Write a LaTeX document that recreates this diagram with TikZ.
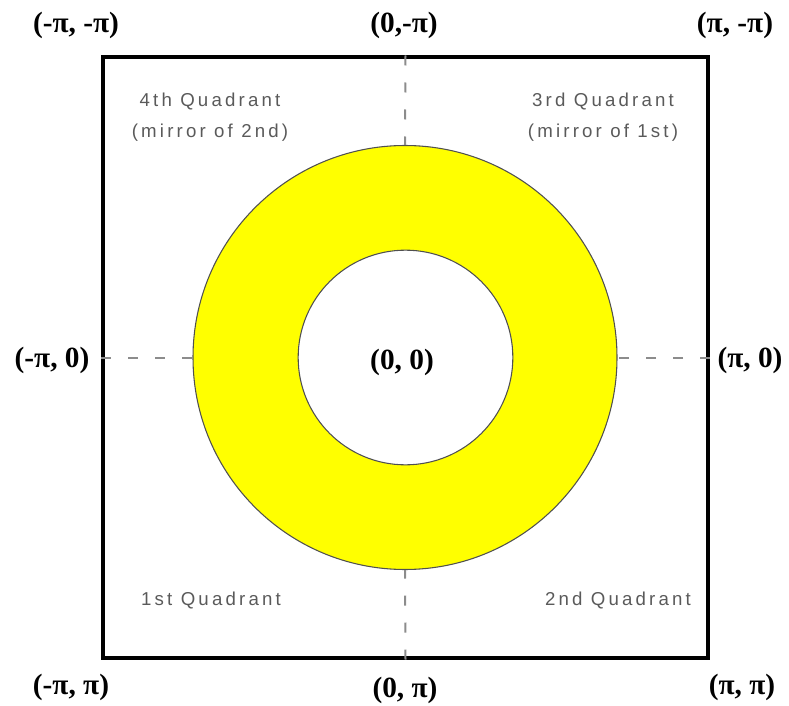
\documentclass[tikz,border=0pt]{standalone}
\usepackage{fontspec}
\setmainfont{Liberation Serif}
\setsansfont{Liberation Sans}
\usepackage{tikz}
\usetikzlibrary{positioning}
\definecolor{RingYellow}{HTML}{FFFF00}
\definecolor{EdgeGray}{HTML}{505050}
\definecolor{AxisGray}{HTML}{8C8C8C}
\definecolor{NoteGray}{HTML}{5A5A5A}

\begin{document}
\begin{tikzpicture}[
  x=0.75pt, y=-0.75pt,
  frame/.style={rectangle, draw=black, line width=3pt, minimum width=453.75pt, minimum height=450pt, inner sep=0pt},
  ring/.style={circle, draw=EdgeGray, line width=0.8pt, fill=RingYellow, minimum size=318pt, inner sep=0pt},
  hole/.style={circle, draw=EdgeGray, line width=0.8pt, fill=white, minimum size=161pt, inner sep=0pt},
  corner/.style={font=\bfseries\fontsize{22}{26}\selectfont, inner sep=0pt},
  quad/.style={font=\sffamily\fontsize{14}{23.5}\selectfont\addfontfeature{LetterSpace=17}, text=NoteGray, align=center, inner sep=0pt},
  axis/.style={dash pattern=on 7.5pt off 12.75pt, line width=1.5pt, draw=AxisGray}
]
\useasboundingbox (0,0) rectangle (789,706);

\node[frame] (sq) at (405.5,357.5) {};
\node[ring] (ring) at (405,357.5) {};
\node[hole] (hole) at (405.5,357.5) {};

% dashed axes from the frame to the ring
\draw[axis] (sq.north) -- (ring.north);
\draw[axis] (sq.south) -- (ring.south);
\draw[axis] (sq.west) -- (ring.west);
\draw[axis] (sq.east) -- (ring.east);

\node[corner] (mm) at (76,25) {(-π, -π)};
\node[corner] (zm) at (404,25) {(0,-π)};
\node[corner] (pm) at (735,25) {(π, -π)};
\node[corner] (mz) at (52,360) {(-π, 0)};
\node[corner] (zz) at (402,362) {(0, 0)};
\node[corner] (pz) at (750,360) {(π, 0)};
\node[corner] (mp) at (71,687) {(-π, π)};
\node[corner] (zp) at (405,690) {(0, π)};
\node[corner] (pp) at (742,687) {(π, π)};

\node[quad] (q4) at (210,117) {4th Quadrant\\(mirror of 2nd)};
\node[quad] (q3) at (603,117) {3rd Quadrant\\(mirror of 1st)};
\node[quad] (q1) at (211,600) {1st Quadrant};
\node[quad] (q2) at (618,600) {2nd Quadrant};
\end{tikzpicture}
\end{document}
